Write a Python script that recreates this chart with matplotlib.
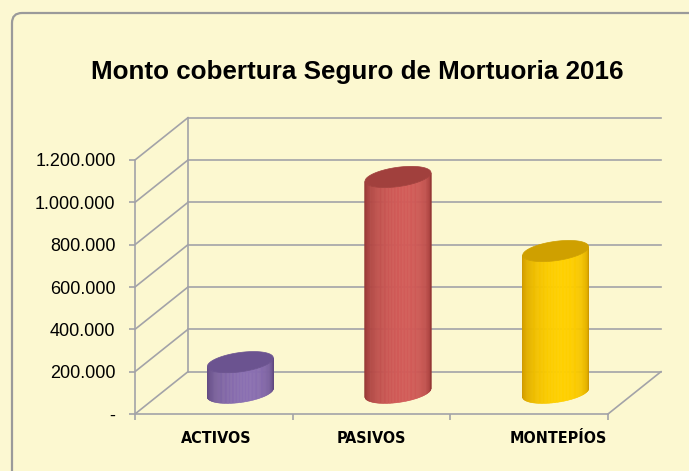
import numpy as np
import matplotlib.pyplot as plt
from matplotlib.patches import FancyBboxPatch, Polygon
from matplotlib.ticker import FuncFormatter
import matplotlib.transforms as mtransforms

categorias = ['ACTIVOS', 'PASIVOS', 'MONTEPÍOS']
montos = [145000, 1020000, 670000]
colores_base = ['#8a6fb2', '#d25b58', '#ffd000']
colores_borde = ['#5c4679', '#8e3431', '#c99300']
colores_tapa = ['#6b5390', '#a1403d', '#cfa000']
yticks = [0, 200000, 400000, 600000, 800000, 1000000, 1200000]

fondo = '#fcf8d2'
gris = '#a3a3a8'

fig = plt.figure(figsize=(6.89, 4.71), dpi=100, facecolor=fondo)

# marco redondeado
marco = FancyBboxPatch((0.12, -0.3), 7.0, 4.71 - 0.13 + 0.3,
                       boxstyle='round,pad=0,rounding_size=0.1',
                       transform=fig.dpi_scale_trans, facecolor='#fcf8d0',
                       edgecolor='#9a9a9a', linewidth=1.6, zorder=-5)
fig.patches.append(marco)

fig.text(357 / 689, 1 - 79 / 471, 'Monto cobertura Seguro de Mortuoria 2016',
         ha='center', va='baseline', fontsize=18.7, fontweight='bold',
         family='Liberation Sans')

ax = fig.add_axes([135 / 689, 57 / 471, 473 / 689, 254 / 471])
ax.set_facecolor('none')
ax.set_xlim(0, 3)
ax.set_ylim(0, 1200000)
for s in ax.spines.values():
    s.set_visible(False)

# profundidad (oblicua)
dx = 53 / 157.67
D = 200000
ymax = yticks[-1]

# paredes y rejilla
for v in yticks:
    ax.plot([0, dx], [v, v + D], color=gris, lw=1.2, clip_on=False, zorder=1)
    ax.plot([dx, 3 + dx], [v + D, v + D], color=gris, lw=1.2, clip_on=False, zorder=1)
ax.plot([0, 0], [0, ymax], color=gris, lw=1.2, clip_on=False, zorder=1)
ax.plot([dx, dx], [D, ymax + D], color=gris, lw=1.2, clip_on=False, zorder=1)
ax.plot([0, 3], [0, 0], color=gris, lw=1.2, clip_on=False, zorder=1)
ax.plot([3, 3 + dx], [0, D], color=gris, lw=1.2, clip_on=False, zorder=1)

ax.set_yticks(yticks)
ax.yaxis.set_major_formatter(FuncFormatter(
    lambda v, p: '-' if v == 0 else f'{int(v):,}'.replace(',', '.')))
ax.tick_params(axis='y', length=4, width=1.2, color=gris, pad=10,
               labelsize=13)
for t in ax.get_yticklabels():
    t.set_family('Liberation Sans')

ax.set_xticks([0, 1, 2, 3], minor=False)
ax.set_xticklabels([])
ax.set_xticks([0.5, 1.5, 2.5], minor=True)
ax.set_xticklabels(categorias, minor=True)
ax.tick_params(axis='x', which='major', length=4, width=1.2, color=gris)
ax.tick_params(axis='x', which='minor', length=0, pad=12, labelsize=11.5)
for t in ax.get_xticklabels(minor=True):
    t.set_family('DejaVu Sans')
    t.set_fontstretch('condensed')
    t.set_fontweight('bold')
ult = ax.get_xticklabels(minor=True)[-1]
ult.set_transform(ult.get_transform() +
                  mtransforms.ScaledTranslation(0.29, 0, fig.dpi_scale_trans))
ax.get_xticklabels(minor=True)[0].set_transform(
    ax.get_xticklabels(minor=True)[0].get_transform() +
    mtransforms.ScaledTranslation(0.02, 0, fig.dpi_scale_trans))

# cilindros
rx = 30.2 / 157.67
bx = 0.25 * dx
by = 0.25 * D
th1 = np.arctan2(bx, rx)
N = 70


def hexrgb(h):
    return np.array([int(h[i:i + 2], 16) / 255 for i in (1, 3, 5)])


for i, (v, cb, cd, ct) in enumerate(zip(montos, colores_base, colores_borde, colores_tapa)):
    xc = i + 0.5 + dx / 2
    yb = D / 2
    yt = v + D / 2
    cl = hexrgb(cb)
    ck = hexrgb(cd)
    th = np.linspace(th1 + np.pi, th1 + 2 * np.pi, N + 1)
    px = xc + rx * np.cos(th) + bx * np.sin(th)
    py = by * np.sin(th)
    for k in range(N):
        t = (k + 0.5) / N
        s = np.sin(np.pi * t ** 1.25) ** 0.7
        col = ck + (cl - ck) * s
        quad = [(px[k], yb + py[k]), (px[k + 1], yb + py[k + 1]),
                (px[k + 1], yt + py[k + 1]), (px[k], yt + py[k])]
        ax.add_patch(Polygon(quad, closed=True, facecolor=col, edgecolor=col,
                             lw=0.4, clip_on=False, zorder=3))
    tt = np.linspace(0, 2 * np.pi, 120)
    ex = xc + rx * np.cos(tt) + bx * np.sin(tt)
    ey = yt + by * np.sin(tt)
    ax.add_patch(Polygon(np.column_stack([ex, ey]), closed=True,
                         facecolor=ct, edgecolor=ct, lw=0.5,
                         clip_on=False, zorder=4))

fig.savefig('out.png', dpi=100, facecolor=fondo)
